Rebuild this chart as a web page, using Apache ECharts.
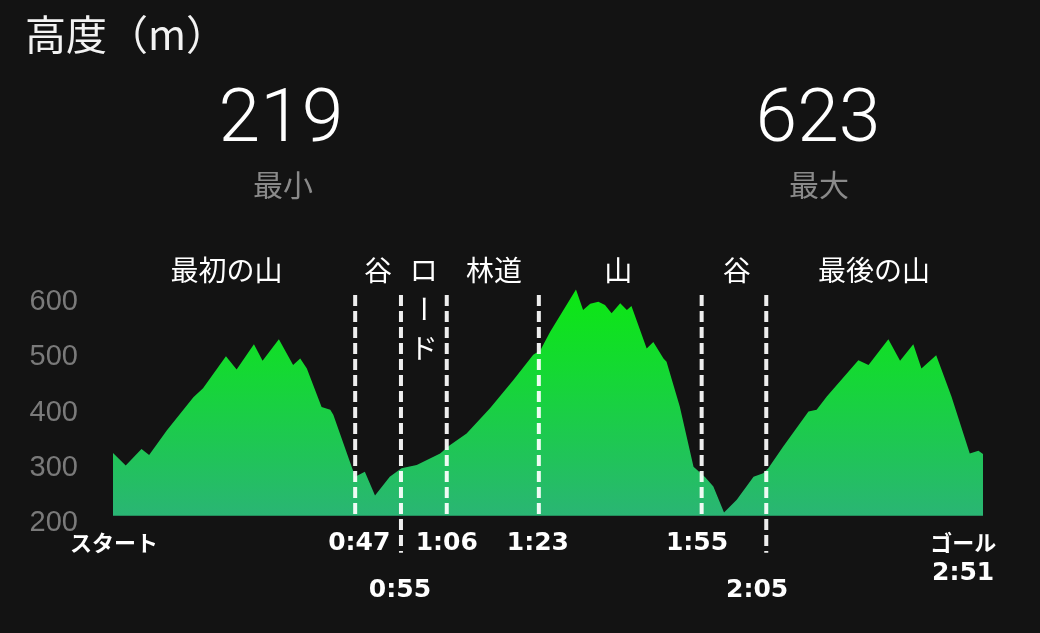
<!DOCTYPE html>
<html>
<head>
<meta charset="utf-8">
<script src="https://cdn.jsdelivr.net/npm/echarts@6/dist/echarts.min.js"></script>
<style>
html,body{margin:0;padding:0;background:#131313;}
#chart{width:1040px;height:633px;}
</style>
</head>
<body>
<div id="chart"></div>
<script>
// elapsed time (minutes) and elevation (m)
const times = [0, 2.5, 5.6, 7.1, 10.6, 15.8, 17.7, 22.2, 24.3, 27.7, 29.4, 32.6, 35.4, 36.8, 38.1, 41.0, 42.7, 43.3, 47.6, 49.5,
  51.5, 54.4, 56.7, 59.7, 64.3, 66.2, 69.5, 74.1, 78.7, 82.6, 84.0, 85.9, 91.0, 92.4, 93.8, 95.4, 96.7, 98.0, 99.7, 101.0,
  101.9, 104.9, 106.2, 108.2, 108.8, 111.4, 114.1, 116.4, 118.0, 120.1, 122.6, 125.9, 127.8, 128.8, 131.7, 136.7, 138.3, 140.3, 146.5, 148.5,
  152.4, 154.7, 157.3, 158.9, 161.8, 164.8, 168.4, 170.1, 171];
const elevation = [327, 304, 334, 323, 368, 428, 444, 502, 478, 524, 494, 533, 486, 498, 480, 410, 405, 396, 284, 293,
  250, 284, 299, 305, 326, 341, 362, 408, 459, 505, 513, 546, 623, 586, 597, 601, 595, 580, 598, 586,
  593, 516, 528, 498, 492, 411, 302, 283, 266, 219, 242, 284, 290, 299, 338, 402, 405, 429, 495, 486,
  533, 494, 524, 480, 504, 429, 326, 331, 325];

// section dividers (minutes) and whether the dash runs down to the second label row
const dividerAt = [47.6, 56.6, 65.6, 83.7, 115.7, 128.4];
const dividerLong = [false, true, false, false, false, true];

// section names and their centres (minutes)
const sectionNames = ['最初の山', '谷', 'ロード', '林道', '山', '谷', '最後の山'];
const sectionAt = [22.3, 52.1, 60.9, 74.9, 99.3, 122.6, 149.6];
const sectionVertical = [false, false, true, false, false, false, false];

// x tick labels (first row and second row) and where they sit (minutes)
const tickLabels = ['スタート', '0:47', '1:06', '1:23', '1:55', 'ゴール\n2:51'];
const tickAt = [0.2, 48.4, 65.6, 83.5, 114.8, 167.1];
const tickLabels2 = ['0:55', '2:05'];
const tickAt2 = [56.4, 126.6];

const yTicks = [200, 300, 400, 500, 600];

const title = '高度（m）';
const minLabel = '最小';
const maxLabel = '最大';

const chart = echarts.init(document.getElementById('chart'), null, {renderer: 'canvas'});

const CJK = '"Noto Sans CJK JP", "Noto Sans CJK SC", sans-serif';
const DIG = '"DejaVu Sans", "Noto Sans CJK JP", sans-serif';

function richLabel(txt) {
  return txt.split('\n').map(s => /^[0-9:]+$/.test(s) ? '{d|' + s + '}' : '{k|' + s + '}').join('\n');
}
function makeFormatter(values, labels) {
  return function (v) {
    for (let i = 0; i < values.length; i++) {
      if (Math.abs(values[i] - v) < 1e-6) return richLabel(labels[i]);
    }
    return '';
  };
}
const richStyles = {
  d: {fontFamily: DIG, fontWeight: 'bold', fontSize: 25, color: '#ffffff', lineHeight: 30},
  k: {fontFamily: CJK, fontWeight: 'bold', fontSize: 22, color: '#ffffff', lineHeight: 30}
};

const DIV_TOP = 613, DIV_BOT = 213, DIV_BOT_LONG = 146, LABEL_Y = 640;

const lo = Math.min(...elevation), hi = Math.max(...elevation);

const option = {
  backgroundColor: '#131313',
  animation: false,
  grid: {left: 113, right: 57, top: 280.1, bottom: 110, containLabel: false},
  xAxis: [{
    type: 'value', min: 0, max: 171, position: 'bottom',
    axisLine: {show: false}, axisTick: {show: false}, splitLine: {show: false},
    axisLabel: {customValues: tickAt, interval: 0, margin: 5, formatter: makeFormatter(tickAt, tickLabels), rich: richStyles}
  }, {
    type: 'value', min: 0, max: 171, position: 'bottom', offset: 47,
    axisLine: {show: false}, axisTick: {show: false}, splitLine: {show: false},
    axisLabel: {customValues: tickAt2, interval: 0, margin: 5, formatter: makeFormatter(tickAt2, tickLabels2), rich: richStyles}
  }],
  yAxis: {
    type: 'value', min: 200, max: 640, interval: 100,
    axisLine: {show: false}, axisTick: {show: false}, splitLine: {show: false},
    axisLabel: {
      margin: 35, color: '#7a7a7a', fontSize: 29, fontFamily: '"Liberation Sans", Arial, sans-serif',
      formatter: v => (yTicks.indexOf(v) >= 0 ? String(v) : '')
    }
  },
  series: [{
    type: 'line',
    data: times.map((t, i) => [t, elevation[i]]),
    showSymbol: false,
    symbol: 'none',
    lineStyle: {width: 0},
    areaStyle: {
      origin: 213,
      opacity: 1,
      color: new echarts.graphic.LinearGradient(0, 0, 0, 1, [
        {offset: 0, color: '#0ce812'},
        {offset: 0.35, color: '#14d932'},
        {offset: 0.7, color: '#1fc655'},
        {offset: 1, color: '#2ab574'}
      ])
    },
    z: 2
  }, {
    type: 'custom',
    coordinateSystem: 'cartesian2d',
    clip: false,
    silent: true,
    z: 5,
    data: dividerAt.map((x, i) => [x, dividerLong[i] ? 1 : 0]),
    renderItem: function (params, api) {
      const x = api.value(0);
      const top = api.coord([x, DIV_TOP]);
      const bot = api.coord([x, api.value(1) ? DIV_BOT_LONG : DIV_BOT]);
      return {
        type: 'line',
        shape: {x1: top[0], y1: top[1], x2: bot[0], y2: bot[1]},
        style: {stroke: 'rgba(255,255,255,0.93)', lineWidth: 4, lineDash: [11, 5]}
      };
    }
  }, {
    type: 'custom',
    coordinateSystem: 'cartesian2d',
    clip: false,
    silent: true,
    z: 5,
    data: sectionAt.map((x, i) => [x, i]),
    renderItem: function (params, api) {
      const i = api.value(1);
      const p = api.coord([api.value(0), LABEL_Y]);
      const name = sectionNames[i];
      const base = {fill: '#ffffff', font: '400 28px ' + CJK, align: 'center', verticalAlign: 'middle'};
      if (!sectionVertical[i]) {
        return {type: 'text', x: p[0], y: p[1] - 10, style: Object.assign({text: name}, base)};
      }
      const chars = name.split('');
      return {
        type: 'group',
        children: chars.map((c, k) => ({
          type: 'text', x: p[0] + 1, y: p[1] - 10 + k * 39,
          rotation: c === 'ー' ? -Math.PI / 2 : 0,
          style: Object.assign({text: c}, base)
        }))
      };
    }
  }],
  graphic: [
    {type: 'text', left: 25, top: 14, style: {text: title, fill: '#f2f2f2', font: '400 41px ' + CJK}},
    {type: 'text', x: 281, y: 122, style: {text: String(lo), fill: '#ffffff', font: '300 75px Roboto, "Liberation Sans", sans-serif', align: 'center', verticalAlign: 'middle'}},
    {type: 'text', x: 283, y: 185, style: {text: minLabel, fill: '#8a8a8a', font: '400 30px ' + CJK, align: 'center', verticalAlign: 'middle'}},
    {type: 'text', x: 818, y: 122, style: {text: String(hi), fill: '#ffffff', font: '300 75px Roboto, "Liberation Sans", sans-serif', align: 'center', verticalAlign: 'middle'}},
    {type: 'text', x: 819, y: 185, style: {text: maxLabel, fill: '#8a8a8a', font: '400 30px ' + CJK, align: 'center', verticalAlign: 'middle'}}
  ]
};
chart.setOption(option);
</script>
</body>
</html>
